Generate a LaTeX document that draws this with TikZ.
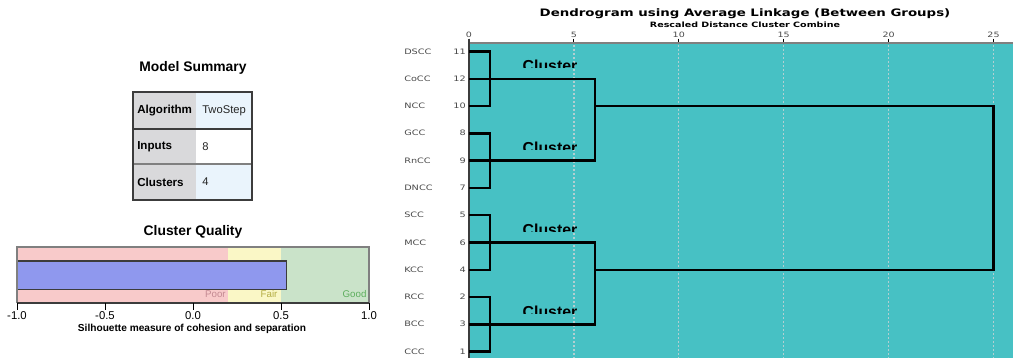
\documentclass[tikz,border=0pt]{standalone}
\usepackage{fontspec}
\setmainfont{Liberation Sans}
\newfontfamily\spssfont[FakeStretch=1.3]{DejaVu Sans}
\usetikzlibrary{positioning}
\definecolor{dendteal}{HTML}{47C1C4}
\definecolor{hdrgray}{HTML}{D9D9DB}
\definecolor{valblue}{HTML}{EAF4FC}
\definecolor{poorpink}{HTML}{F8CACA}
\definecolor{fairyellow}{HTML}{FAF7C6}
\definecolor{goodgreen}{HTML}{CAE3C9}
\definecolor{barblue}{HTML}{8F98EE}
\definecolor{poortext}{HTML}{C48A92}
\definecolor{fairtext}{HTML}{B5AE45}
\definecolor{goodtext}{HTML}{5DAE5D}
\definecolor{gridgray}{HTML}{B2CFD1}
\definecolor{labgray}{HTML}{4A4A4A}
\definecolor{framegray}{HTML}{3C3C3C}

\begin{document}
\begin{tikzpicture}[
  x=0.75pt, y=-0.75pt,
  every node/.style={inner sep=0pt, text=black},
  titlelab/.style={font=\bfseries\fontsize{10.4}{12}\selectfont, anchor=base},
  hcell/.style={font=\bfseries\fontsize{8.7}{10}\selectfont, anchor=west},
  vcell/.style={font=\fontsize{8.4}{10}\selectfont, anchor=west, text=black!85},
  axlab/.style={font=\fontsize{8.5}{10}\selectfont, anchor=base},
  zonelab/.style={font=\fontsize{7.3}{9}\selectfont, anchor=base east},
  dtitle/.style={font=\spssfont\bfseries\fontsize{7.7}{9}\selectfont, anchor=base},
  leaflab/.style={font=\spssfont\fontsize{5.6}{7}\selectfont, text=labgray, anchor=base west},
  leafnum/.style={font=\spssfont\fontsize{5.6}{7}\selectfont, text=labgray, anchor=base east},
  ticklab/.style={font=\spssfont\fontsize{5.5}{7}\selectfont, text=labgray, anchor=base},
  clusterlab/.style={font=\bfseries\fontsize{11.9}{13}\selectfont, anchor=base},
  dline/.style={black, line width=1.8pt, line join=miter},
  gridline/.style={gridgray, line width=0.9pt, dash pattern=on 1.5pt off 1.5pt},
  tickline/.style={black, line width=0.75pt},
]

\useasboundingbox (0,0) rectangle (1013,358);

% ---- Model summary table ----
\node[titlelab] (mstitle) at (193,71.7) {Model Summary};
\fill[hdrgray] (133,92) rectangle (196,200);
\fill[valblue] (196,92) rectangle (252,129);
\fill[white]   (196,129) rectangle (252,164);
\fill[valblue] (196,164) rectangle (252,200);
\draw[framegray, line width=0.8pt] (133,129) -- (252,129);
\draw[gray, line width=1.6pt] (133,164) -- (252,164);
\draw[framegray, line width=1pt] (133,92) rectangle (252,200);
\node[hcell] (alghead) at (137,110.5) {Algorithm};
\node[vcell] (algval)  at (202,110.5) {TwoStep};
\node[hcell] (inhead)  at (137,146.5) {Inputs};
\node[vcell] (inval)   at (202,146.5) {8};
\node[hcell] (clhead)  at (137,182) {Clusters};
\node[vcell] (clval)   at (202,182) {4};

% ---- Cluster quality bar ----
\node[titlelab] (cqtitle) at (193,235) {Cluster Quality};
\fill[poorpink]   (17,247) rectangle (228.2,303);
\fill[fairyellow] (228.2,247) rectangle (281,303);
\fill[goodgreen]  (281,247) rectangle (369,303);
\draw[framegray, line width=0.8pt, fill=barblue] (17,261) rectangle (286.7,289.3);
\draw[gray, line width=0.8pt] (17,303) -- (17,247) -- (369,247) -- (369,303);
\draw[framegray, line width=0.9pt] (17,303) -- (369,303);
\node[zonelab, text=poortext] (poor) at (226,297.7) {Poor};
\node[zonelab, text=fairtext] (fair) at (277.7,297.7) {Fair};
\node[zonelab, text=goodtext] (good) at (366.7,297.7) {Good};
\foreach \v/\lab in {-1/-1.0, -0.5/-0.5, 0/0.0, 0.5/0.5, 1/1.0} {
  \draw[tickline] ({193+176*\v},303) -- ({193+176*\v},310);
  \node[axlab] (sil\lab) at ({193+176*\v},319.3) {\lab};
}
\node[font=\bfseries\fontsize{7.6}{9}\selectfont, anchor=base] (silaxis) at (192,331.7)
  {Silhouette measure of cohesion and separation};

% ---- Dendrogram ----
\node[dtitle] (dtitle) at (745,16.7) {Dendrogram using Average Linkage (Between Groups)};
\node[dtitle, font=\spssfont\bfseries\fontsize{5.5}{7}\selectfont] (dsub) at (745,27.3)
  {Rescaled Distance Cluster Combine};

\fill[dendteal] (469,43) rectangle (1013,358);
\foreach \d in {5,10,...,25}
  \draw[gridline] ({469+20.98*\d},45) -- ({469+20.98*\d},358);
\foreach \d in {0,5,...,25} {
  \draw[tickline] ({469+20.98*\d},38.5) -- ({469+20.98*\d},43);
  \node[ticklab] (tick\d) at ({469+20.98*\d},37.3) {\d};
}
\draw[gray, line width=1.4pt] (469,43) -- (1013,43);
\draw[framegray, line width=1.1pt] (469,38.5) -- (469,358);

% clipped cluster captions
\foreach \t [count=\k] in {60,142,224,306} {
  \begin{scope}
    \clip (510,{\t-4}) rectangle (590,{\t+7.3});
    \node[clusterlab] (clus\k) at (550,{\t+11.4}) {Cluster};
  \end{scope}
}

% leaves
\foreach \nm/\nr [count=\i] in {DSCC/11, CoCC/12, NCC/10, GCC/8, RnCC/9, DNCC/7,
                                 SCC/5, MCC/6, KCC/4, RCC/2, BCC/3, CCC/1} {
  \pgfmathsetmacro\ry{51.5+27.28*(\i-1)}
  \coordinate (leaf\i) at (469,\ry);
  \node[leaflab] (name\i) at (404,{\ry+2.6}) {\nm};
  \node[leafnum] (num\i) at (466,{\ry+2.6}) {\nr};
}

% first merges at distance 1
\foreach \g in {1,...,4} {
  \pgfmathtruncatemacro\la{3*\g-2}
  \pgfmathtruncatemacro\lb{3*\g-1}
  \pgfmathtruncatemacro\lc{3*\g}
  \path (leaf\lb) ++(21,0) coordinate (grp\g);
  \draw[dline] (leaf\la) -| (grp\g) |- (leaf\lc);
}

% merges at distance 6 and 25
\path (leaf3) ++(126,0) coordinate (pairtop);
\path (leaf9) ++(126,0) coordinate (pairbot);
\path (leaf6) ++(524.5,0) coordinate (root);
\draw[dline] (leaf2) -| (pairtop) |- (leaf5);
\draw[dline] (leaf8) -| (pairbot) |- (leaf11);
\draw[dline] (pairtop) -| (root) |- (pairbot);

\end{tikzpicture}
\end{document}
